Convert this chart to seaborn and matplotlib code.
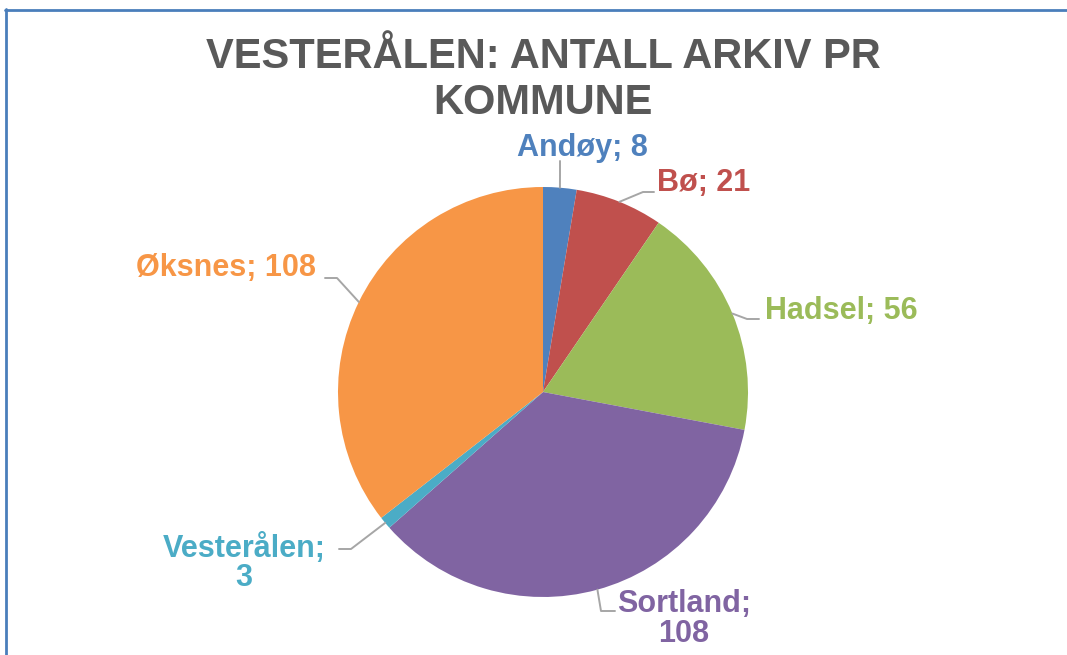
import numpy as np
import matplotlib
matplotlib.use('Agg')
import matplotlib.pyplot as plt
from matplotlib.lines import Line2D
import seaborn as sns

# =============================================================================
# DATOS
# =============================================================================
kommuner = ['Andøy', 'Bø', 'Hadsel', 'Sortland', 'Vesterålen', 'Øksnes']
antall = [8, 21, 56, 108, 3, 108]
farger = ['#4F81BD', '#C0504D', '#9BBB59', '#8064A2', '#4BACC6', '#F79646']
etiketter = ['Andøy; 8', 'Bø; 21', 'Hadsel; 56', 'Sortland;\n108',
             'Vesterålen;\n3', 'Øksnes; 108']

sns.set_theme(style='white')
plt.rcParams['font.family'] = ['Liberation Sans', 'DejaVu Sans']

W, H = 1067, 655
fig = plt.figure(figsize=(W / 100, H / 100), dpi=100)
fig.patch.set_facecolor('white')

def fx(px):
    return px / W

def fy(py):
    return 1 - py / H

# pie: centre (543, 392), radio 205 px
cx, cy, r = 543, 392, 205
ax = fig.add_axes([fx(cx - r), fy(cy + r), 2 * r / W, 2 * r / H])
ax.pie(antall, colors=farger, startangle=90, counterclock=False,
       radius=1, wedgeprops=dict(linewidth=0))
ax.set_xlim(-1, 1)
ax.set_ylim(-1, 1)
ax.set_aspect('equal')
ax.axis('off')

# etiquetas con líneas guía (codo y final en píxeles)
layout = {
    'Andøy':      dict(elbow=(560, 175), end=(560, 161), txt=(582, 148), ha='center', va='center'),
    'Bø':         dict(elbow=(643, 192), end=(654, 192), txt=(657, 183), ha='left', va='center'),
    'Hadsel':     dict(elbow=(747, 319), end=(759, 319), txt=(765, 311), ha='left', va='center'),
    'Sortland':   dict(elbow=(601, 611), end=(615, 611), txt=(684, 619), ha='center', va='center'),
    'Vesterålen': dict(elbow=(351, 549), end=(339, 549), txt=(244, 563), ha='center', va='center'),
    'Øksnes':     dict(elbow=(337, 278), end=(325, 278), txt=(226, 268), ha='center', va='center'),
}

total = sum(antall)
acum = 0
for navn, n, farge, lab in zip(kommuner, antall, farger, etiketter):
    mid = (acum + n / 2) / total * 2 * np.pi
    acum += n
    sx = cx + r * np.sin(mid)
    sy = cy - r * np.cos(mid)
    L = layout[navn]
    xs = [sx, L['elbow'][0], L['end'][0]]
    ys = [sy, L['elbow'][1], L['end'][1]]
    fig.add_artist(Line2D([fx(v) for v in xs], [fy(v) for v in ys],
                          color='#A6A6A6', linewidth=1.4))
    fig.text(fx(L['txt'][0]), fy(L['txt'][1]), lab, ha=L['ha'], va=L['va'],
             fontsize=22, fontweight='bold', color=farge,
             linespacing=1.0, multialignment='center')

# título
fig.text(fx(543), fy(80), 'VESTERÅLEN: ANTALL ARKIV PR\nKOMMUNE',
         ha='center', va='center', fontsize=30, fontweight='bold',
         color='#595959', linespacing=1.17)

# borde del gráfico
borde = '#4A7EBB'
fig.add_artist(Line2D([fx(5), 1], [fy(9.5), fy(9.5)], color=borde, linewidth=2))
fig.add_artist(Line2D([fx(6), fx(6)], [fy(9), 0], color=borde, linewidth=2))

fig.savefig('out.png', dpi=100, facecolor='white')
